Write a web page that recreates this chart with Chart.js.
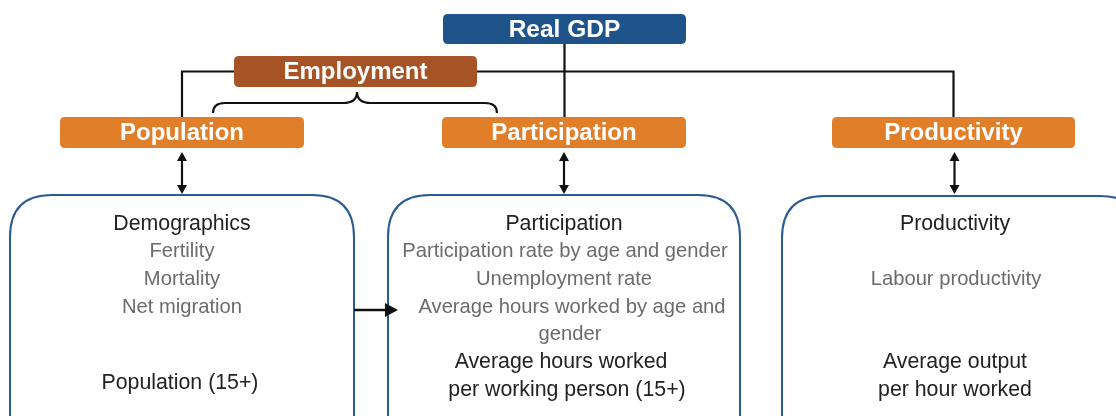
<!DOCTYPE html>
<html>
<head>
<meta charset="utf-8">
<script src="https://cdn.jsdelivr.net/npm/chart.js@4/dist/chart.umd.min.js"></script>
<style>
  html, body { margin: 0; padding: 0; background: #fff; }
  #wrap { width: 1116px; height: 416px; }
</style>
</head>
<body>
<div id="wrap"><canvas id="myChart" width="1116" height="416"></canvas></div>
<script>
// labels of the diagram
const topLabel = 'Real GDP'
const midLabel = 'Employment'
const driverLabels = ['Population', 'Participation', 'Productivity']

// text inside the three big boxes: [text, kind]  (h = heading, s = sub item)
const boxLines = [
  [['Demographics', 'h'], ['Fertility', 's'], ['Mortality', 's'], ['Net migration', 's'], ['Population (15+)', 'h']],
  [['Participation', 'h'], ['Participation rate by age and gender', 's'], ['Unemployment rate', 's'], ['Average hours worked by age and', 's'], ['gender', 's'], ['Average hours worked', 'h'], ['per working person (15+)', 'h']],
  [['Productivity', 'h'], ['Labour productivity', 's'], ['Average output', 'h'], ['per hour worked', 'h']]
]

// layout, in the units of the (hidden) scales
const layout = {
  top: { x: 443, y: 14, w: 243, h: 30 },
  mid: { x: 234, y: 56, w: 243, h: 31 },
  drivers: [ { x: 60, y: 117, w: 244, h: 31 }, { x: 442, y: 117, w: 244, h: 31 }, { x: 832, y: 117, w: 243, h: 31 } ],
  boxes: [ { x: 10, y: 195, w: 344, h: 260 }, { x: 388, y: 195, w: 352, h: 260 }, { x: 782, y: 196, w: 360, h: 260 } ],
  textX: [[182, 182, 182, 182, 180], [564, 565, 564, 572, 570, 561, 567], [955, 956, 955, 955]],
  textY: [[230, 257, 285, 313, 389], [230, 257, 285, 313, 340, 368, 396], [230, 285, 368, 396]]
}

const fontFamily = '"Liberation Sans", Arial, sans-serif'

function rr(ctx, x, y, w, h, r) {
  ctx.beginPath()
  ctx.moveTo(x + r, y)
  ctx.lineTo(x + w - r, y)
  ctx.quadraticCurveTo(x + w, y, x + w, y + r)
  ctx.lineTo(x + w, y + h - r)
  ctx.quadraticCurveTo(x + w, y + h, x + w - r, y + h)
  ctx.lineTo(x + r, y + h)
  ctx.quadraticCurveTo(x, y + h, x, y + h - r)
  ctx.lineTo(x, y + r)
  ctx.quadraticCurveTo(x, y, x + r, y)
  ctx.closePath()
}

function head(ctx, x, y, dir) {
  ctx.beginPath()
  if (dir === 'up') { ctx.moveTo(x, y); ctx.lineTo(x - 5, y + 9); ctx.lineTo(x + 5, y + 9) }
  if (dir === 'down') { ctx.moveTo(x, y); ctx.lineTo(x - 5, y - 9); ctx.lineTo(x + 5, y - 9) }
  if (dir === 'right') { ctx.moveTo(x, y); ctx.lineTo(x - 13, y - 7); ctx.lineTo(x - 13, y + 7) }
  ctx.closePath()
  ctx.fill()
}

const diagramPlugin = {
  id: 'diagram',
  afterDraw(chart) {
    const ctx = chart.ctx
    const sx = chart.scales.x, sy = chart.scales.y
    const X = v => sx.getPixelForValue(v)
    const Y = v => sy.getPixelForValue(v)
    const rect = (b, r) => rr(ctx, X(b.x), Y(b.y), X(b.x + b.w) - X(b.x), Y(b.y + b.h) - Y(b.y), r)
    const cx = b => X(b.x + b.w / 2)

    ctx.save()
    ctx.strokeStyle = '#111'
    ctx.fillStyle = '#111'
    ctx.lineWidth = 2.2

    // connector lines
    const d = layout.drivers
    ctx.beginPath()
    ctx.moveTo(cx(d[0]), Y(d[0].y))
    ctx.lineTo(cx(d[0]), Y(71.5))
    ctx.lineTo(cx(d[2]), Y(71.5))
    ctx.lineTo(cx(d[2]), Y(d[2].y))
    ctx.moveTo(cx(layout.top), Y(layout.top.y + layout.top.h))
    ctx.lineTo(cx(layout.top), Y(d[1].y))
    ctx.stroke()

    // brace under Employment
    ctx.beginPath()
    ctx.moveTo(X(213), Y(113))
    ctx.quadraticCurveTo(X(213), Y(103), X(225), Y(103))
    ctx.lineTo(X(343), Y(103))
    ctx.quadraticCurveTo(X(357), Y(103), X(357), Y(92))
    ctx.quadraticCurveTo(X(357), Y(103), X(371), Y(103))
    ctx.lineTo(X(485), Y(103))
    ctx.quadraticCurveTo(X(497), Y(103), X(497), Y(113))
    ctx.stroke()

    // header boxes
    const label = (b, txt, fill, size) => {
      ctx.fillStyle = fill
      rect(b, 5)
      ctx.fill()
      ctx.fillStyle = '#fff'
      ctx.font = 'bold ' + size + 'px ' + fontFamily
      ctx.textAlign = 'center'
      ctx.textBaseline = 'middle'
      ctx.fillText(txt, cx(b), Y(b.y + b.h / 2) + 1)
    }
    label(layout.top, topLabel, '#1F548B', 24.5)
    label(layout.mid, midLabel, '#A65425', 24)
    d.forEach((b, i) => label(b, driverLabels[i], '#E07E2A', 24))

    // double arrows
    ctx.fillStyle = '#111'
    d.forEach(b => {
      const x = cx(b) + (b === d[2] ? 1 : 0)
      ctx.beginPath()
      ctx.moveTo(x, Y(156)); ctx.lineTo(x, Y(189)); ctx.stroke()
      head(ctx, x, Y(152), 'up')
      head(ctx, x, Y(194), 'down')
    })

    // big boxes
    ctx.strokeStyle = '#2A5C93'
    ctx.lineWidth = 2
    layout.boxes.forEach(b => { rect(b, 42); ctx.stroke() })

    // arrow from population box to participation box
    ctx.strokeStyle = '#111'
    ctx.lineWidth = 2.5
    ctx.beginPath()
    ctx.moveTo(X(354), Y(310)); ctx.lineTo(X(388), Y(310)); ctx.stroke()
    head(ctx, X(398), Y(310), 'right')

    // box text
    ctx.textAlign = 'center'
    ctx.textBaseline = 'alphabetic'
    boxLines.forEach((lines, i) => {
      lines.forEach((ln, j) => {
        const [txt, kind] = ln
        ctx.font = kind === 's' ? '20.2px ' + fontFamily : '21.3px ' + fontFamily
        ctx.fillStyle = kind === 's' ? '#6b6b6b' : '#222'
        ctx.fillText(txt, X(layout.textX[i][j]), Y(layout.textY[i][j]))
      })
    })
    ctx.restore()
  }
}

const ctx = document.getElementById('myChart').getContext('2d')

const myChart = new Chart(ctx, {
  type: 'scatter',
  data: { datasets: [{ data: [], pointRadius: 0 }] },
  options: {
    responsive: false,
    animation: false,
    layout: { padding: 0 },
    plugins: { legend: { display: false }, tooltip: { enabled: false } },
    scales: {
      x: { type: 'linear', min: 0, max: 1116, display: false },
      y: { type: 'linear', min: 0, max: 416, reverse: true, display: false }
    }
  },
  plugins: [diagramPlugin]
})
</script>
</body>
</html>
